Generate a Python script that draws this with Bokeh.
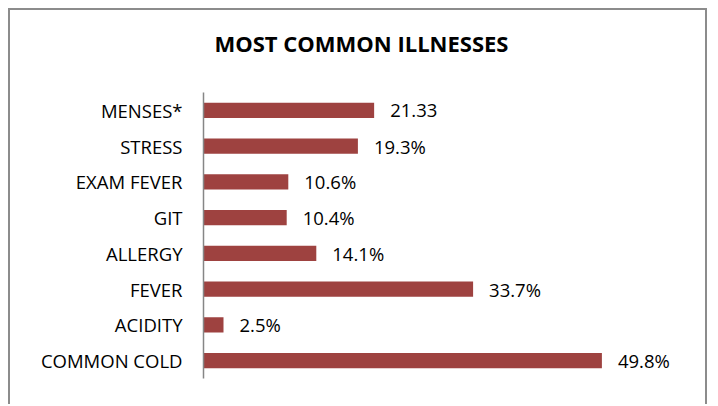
from bokeh.plotting import figure
from bokeh.models import ColumnDataSource, LabelSet, FactorRange, Title
from bokeh.core.properties import value
from bokeh.embed import file_html
from bokeh.resources import INLINE

categories = ["MENSES*", "STRESS", "EXAM FEVER", "GIT", "ALLERGY", "FEVER", "ACIDITY", "COMMON COLD"]
values = [21.33, 19.3, 10.6, 10.4, 14.1, 33.7, 2.5, 49.8]
value_labels = ["21.33", "19.3%", "10.6%", "10.4%", "14.1%", "33.7%", "2.5%", "49.8%"]
title_text = "MOST COMMON ILLNESSES"

FONT = "Open Sans"
BAR = "#9E4240"

src = ColumnDataSource(dict(cat=categories, val=values, lab=value_labels))

p = figure(width=699, height=396, output_backend="svg", toolbar_location=None,
           y_range=FactorRange(factors=list(reversed(categories)), range_padding=0),
           x_range=(0, 60),
           min_border_left=193, min_border_right=26, min_border_top=82, min_border_bottom=28)
p.margin = (8, 0, 0, 8)
p.styles = {"border-left": "2px solid #8C8C8C", "border-top": "2px solid #8C8C8C",
            "border-right": "2px solid #8C8C8C"}
p.outline_line_color = None
p.background_fill_color = "white"
p.border_fill_color = "white"
p.xgrid.visible = False
p.ygrid.visible = False
p.xaxis.visible = False

# trailing blank line lifts the title within the space above the bars
p.title = Title(text=title_text + "\n ", align="left", offset=11, standoff=10,
                text_font=FONT, text_font_size="22px", text_font_style="bold",
                text_color="#000000")

p.hbar(y="cat", right="val", left=0, height=0.42, source=src, fill_color=BAR, line_color=None)

ax = p.yaxis[0]
ax.axis_line_color = "#868686"
ax.axis_line_width = 1.5
ax.major_tick_line_color = None
ax.minor_tick_line_color = None
ax.major_tick_in = 0
ax.major_tick_out = 0
ax.major_label_standoff = 21
ax.major_label_text_font = FONT
ax.major_label_text_font_size = "18.5px"
ax.major_label_text_color = "#000000"

labels = LabelSet(x="val", y="cat", text="lab", source=src, x_offset=16,
                  text_baseline="middle", text_align="left",
                  text_font=value(FONT), text_font_size=value("18.5px"), text_color="#000000")
p.add_layout(labels)

open("out.html", "w").write(file_html(p, INLINE))
